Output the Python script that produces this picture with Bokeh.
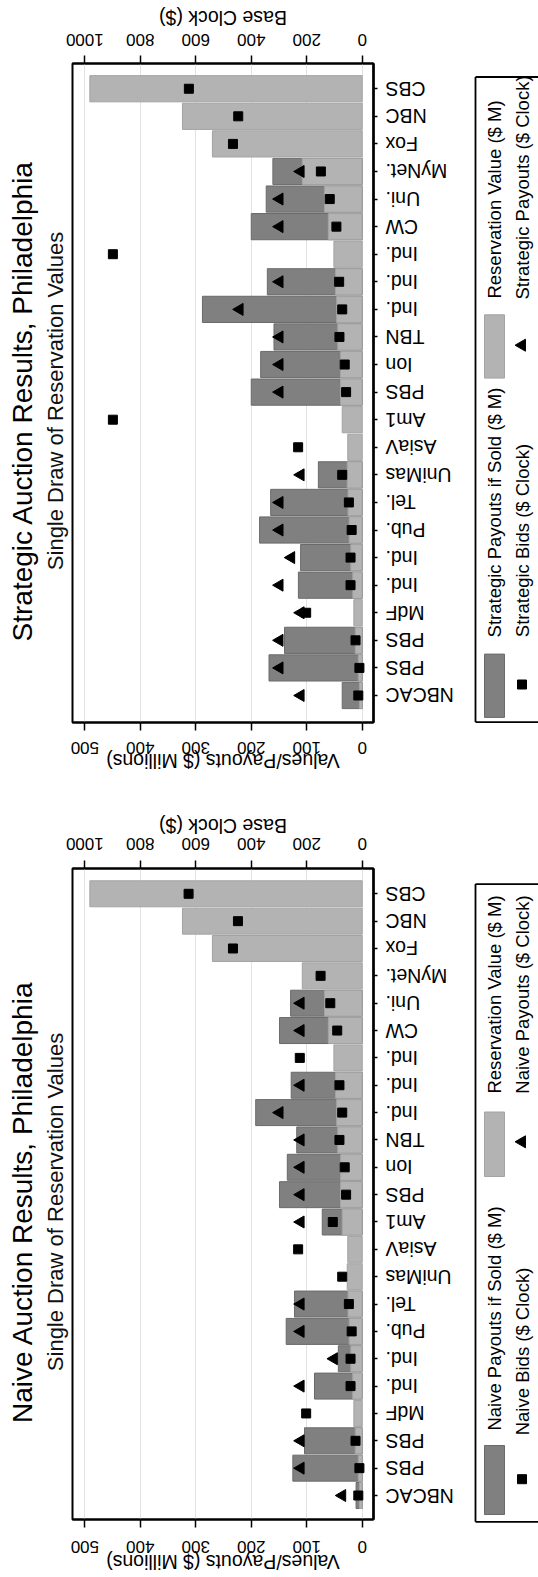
import math
from bokeh.plotting import figure
from bokeh.models import Range1d, LinearAxis, FixedTicker
from bokeh.layouts import column, row
from bokeh.embed import file_html
from bokeh.resources import INLINE
from bokeh.core.properties import value

nan = float("nan")

# ---------------- data (index 0 = NBCAC ... 22 = CBS) ----------------
stations = ["NBCAC", "PBS", "PBS", "MdF", "Ind.", "Ind.", "Pub.", "Tel.", "UniMas", "AsiaV",
            "Am1", "PBS", "Ion", "TBN", "Ind.", "Ind.", "Ind.", "CW", "Uni.", "MyNet.",
            "Fox", "NBC", "CBS"]

reservation_m = [5, 7, 12.5, 15, 17, 20.5, 23.5, 25.5, 27, 26, 36, 39, 39, 44, 46, 48, 51,
                 61, 68, 108, 270, 324, 491]

strategic_payout_m = [36, 168, 140, nan, 115, 111, 185, 165, 79, nan, nan, 200, 183, 159,
                      288, 171, nan, 200, 173, 161, nan, nan, nan]
strategic_bid_clock = [14, 10, 24, 202, 42, 42, 38, 48, 72, 231, 899, 58, 63, 82, 72, 83,
                       899, 93, 117, 149, 466, 447, 625]
strategic_payout_clock = [222, 298, 298, 222, 298, 256, 298, 298, 222, nan, nan, 298, 298,
                          298, 442, 298, nan, 298, 298, 222, nan, nan, nan]

naive_payout_m = [11, 125, 104, nan, 86, 43, 137, 122, nan, nan, 72, 149, 135, 118, 192,
                  128, nan, 149, 129, nan, nan, nan, nan]
naive_bid_clock = [14, 10, 24, 202, 42, 42, 38, 48, 72, 231, 106, 58, 63, 82, 72, 82, 225,
                   90, 115, 150, 466, 448, 626]
naive_payout_clock = [72, 222, 222, nan, 222, 102, 222, 222, nan, nan, 222, 222, 222, 222,
                      298, 222, nan, 222, 222, nan, nan, nan, nan]

value_ticks = [0, 100, 200, 300, 400, 500]
clock_ticks = [0, 200, 400, 600, 800, 1000]

# ---------------- style ----------------
FONT = "Liberation Sans"
LIGHT, LIGHT_LINE = "#b3b3b3", "#a3a3a3"
DARK, DARK_LINE = "#808080", "#6a6a6a"

X0, X1 = 522.3, -20.4          # value axis ($M) across the frame, reversed
C0, C1 = 1044.6, -40.8         # base clock axis across the frame, reversed
FL, FW = 72.0, 301.0           # frame left edge and width on the page


def at(a0, a1, px):
    """axis value found at page x = px, for an axis spanning a0..a1 over the frame"""
    return a0 + (px - FL) * (a1 - a0) / FW


def blank(f):
    f.outline_line_color = None
    f.background_fill_color = "white"
    f.border_fill_color = "white"
    f.grid.visible = False
    return f


def strip(w, h, xr, yr, left=0, right=0, top=0, bottom=0):
    return blank(figure(frame_width=w, frame_height=h, x_range=xr, y_range=yr,
                        min_border_left=left, min_border_right=right,
                        min_border_top=top, min_border_bottom=bottom,
                        x_axis_location=None, y_axis_location=None,
                        output_backend="svg", toolbar_location=None))


def put_text(f, xs, ys, texts, size, angle, align="center", color="black"):
    f.text(x=xs, y=ys, text=texts, angle=angle, text_align=align, text_baseline="middle",
           text_font=value(FONT), text_font_size=value(size), text_color=color)


def ticks_only(ax, ticks, tick_out, line_w):
    ax.ticker = FixedTicker(ticks=ticks)
    ax.major_label_overrides = {t: "" for t in ticks}
    ax.major_label_text_font_size = "0px"
    ax.major_label_standoff = 0
    ax.major_tick_out = tick_out
    ax.major_tick_in = 0
    ax.minor_tick_out = 0
    ax.minor_tick_in = 0
    ax.major_tick_line_width = 1.5
    ax.major_tick_line_color = "black"
    ax.axis_line_width = line_w
    ax.axis_line_color = "black"


def build(kind, payout_m, bid_clock, payout_clock, c):
    top, h, ftop, fh = c["top"], c["h"], c["frame_top"], c["frame_h"]
    bottom, fbot = top + h, ftop + fh
    idx = list(range(len(stations)))
    xr, cr = Range1d(X0, X1), Range1d(C0, C1)
    yr = Range1d(*c["yr"])

    # ---- main plot ----
    p = figure(frame_width=301, frame_height=fh, x_range=xr, y_range=yr,
               min_border_left=2, min_border_right=6, min_border_top=10, min_border_bottom=10,
               x_axis_location="below", y_axis_location="right",
               output_backend="svg", toolbar_location=None)
    p.extra_x_ranges = {"clock": cr}
    p.background_fill_color = "white"
    p.border_fill_color = "white"
    p.outline_line_color = "black"
    p.outline_line_width = 2
    ticks_only(p.xaxis[0], value_ticks, 8, 2)
    top_ax = LinearAxis(x_range_name="clock")
    ticks_only(top_ax, clock_ticks, 8, 2)
    p.add_layout(top_ax, "above")
    ticks_only(p.yaxis[0], idx, 4, 2.5)
    p.xgrid.ticker = FixedTicker(ticks=value_ticks)
    p.xgrid.grid_line_color = "#e2e2e2"
    p.xgrid.grid_line_width = 1
    p.ygrid.visible = False

    p.hbar(y=idx, left=0, right=payout_m, height=0.95,
           fill_color=DARK, line_color=DARK_LINE, line_width=1)
    p.hbar(y=idx, left=0, right=reservation_m, height=0.95,
           fill_color=LIGHT, line_color=LIGHT_LINE, line_width=1)
    p.scatter(x=bid_clock, y=idx, x_range_name="clock", marker="square",
              size=9, fill_color="black", line_color="black")
    p.scatter(x=payout_clock, y=idx, x_range_name="clock", marker="triangle",
              angle=math.pi / 2, size=12, fill_color="black", line_color="black")

    # ---- full-width top strip: base clock tick labels + axis title ----
    t = strip(536, ftop - 10 - top, Range1d(at(C0, C1, 1), at(C0, C1, 537)),
              Range1d(ftop - 10, top), left=1, right=1)
    put_text(t, clock_ticks, [c["top_tick_y"]] * len(clock_ticks),
             [str(v) for v in clock_ticks], "17px", math.pi)
    put_text(t, [(C0 + C1) / 2], [c["top_title"]], ["Base Clock ($)"], "19.5px", math.pi)

    # ---- full-width bottom strip: value tick labels + axis title ----
    b = strip(536, bottom - fbot - 10, Range1d(at(X0, X1, 1), at(X0, X1, 537)),
              Range1d(bottom, fbot + 10), left=1, right=1)
    put_text(b, value_ticks, [c["bot_tick_y"]] * len(value_ticks),
             [str(v) for v in value_ticks], "17px", math.pi)
    put_text(b, [(X0 + X1) / 2], [c["bottom_title"]], ["Values/Payouts ($ Millions)"],
             "19.5px", math.pi)

    # ---- left strip: titles ----
    lf = strip(70, fh + 16, Range1d(0, 70), Range1d(fbot + 8, ftop - 8), top=2, bottom=2)
    cy = (ftop + fbot) / 2.0
    put_text(lf, [21.7], [cy], [f"{kind} Auction Results, Philadelphia"], "28px", math.pi / 2)
    put_text(lf, [54.8], [cy], ["Single Draw of Reservation Values"], "22px", math.pi / 2,
             color="#111111")

    # ---- category label strip (shares the category scale) ----
    lab = strip(88, fh, Range1d(379, 467), yr, top=10, bottom=10)
    lab.text(x=[385] * len(idx), y=idx, text=stations, angle=math.pi,
             text_align="right", text_baseline="middle",
             text_font=value(FONT), text_font_size=value("19.5px"), text_color="black")

    # ---- legend (rotated) ----
    lg = strip(71, fh + 16, Range1d(467, 538), Range1d(fbot + 8, ftop - 8), top=2, bottom=2)
    L = c["legend"]
    bt, bb = L["box"]
    lg.segment(x0=[475, 475, 475], y0=[bt, bt, bb], x1=[475, 560, 560], y1=[bb, bt, bb],
               line_color="black", line_width=1.8)
    lg.quad(left=[484], right=[504], top=[L["dark"][0]], bottom=[L["dark"][1]],
            fill_color=DARK, line_color=DARK_LINE)
    lg.quad(left=[484], right=[504], top=[L["light"][0]], bottom=[L["light"][1]],
            fill_color=LIGHT, line_color=LIGHT_LINE)
    lg.scatter(x=[521.5], y=[L["square"]], marker="square", size=9,
               fill_color="black", line_color="black")
    lg.scatter(x=[521.5], y=[L["tri"]], marker="triangle", angle=math.pi / 2, size=12,
               fill_color="black", line_color="black")
    c1, c2, c3, c4 = L["text"]
    put_text(lg, [494, 494, 522, 522], [c1, c2, c3, c4],
             [f"{kind} Payouts if Sold ($ M)", "Reservation Value ($ M)",
              f"{kind} Bids ($ Clock)", f"{kind} Payouts ($ Clock)"],
             "18.5px", math.pi / 2)

    return column(t, row(lf, p, lab, lg), b)


strategic_cfg = dict(top=0, h=795, frame_top=63, frame_h=659, yr=(-0.979, 22.915),
                     top_tick_y=39.5, top_title=17, bot_tick_y=747.5, bottom_title=760,
                     legend=dict(box=(68.5, 713.6), dark=(645.6, 708.9), light=(306.3, 369.6),
                                 square=676, tri=336.7, text=(504, 191, 532, 179)))
naive_cfg = dict(top=795, h=782, frame_top=868, frame_h=651, yr=(-0.8775, 22.925),
                 top_tick_y=843.5, top_title=825.8, bot_tick_y=1546.5, bottom_title=1561,
                 legend=dict(box=(875.6, 1513.3), dark=(1437, 1506), light=(1103.5, 1168),
                             square=1470.7, tri=1133.3, text=(1310, 986, 1343, 986)))

top_panel = build("Strategic", strategic_payout_m, strategic_bid_clock, strategic_payout_clock,
                  strategic_cfg)
bottom_panel = build("Naive", naive_payout_m, naive_bid_clock, naive_payout_clock, naive_cfg)

layout = column(top_panel, bottom_panel)
open("out.html", "w").write(file_html(layout, INLINE))
